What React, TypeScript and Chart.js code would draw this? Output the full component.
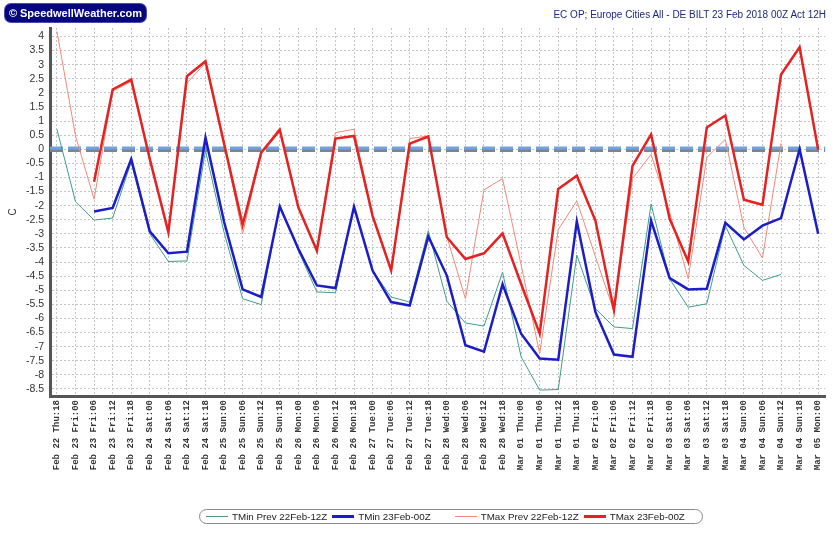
import { useEffect, useRef } from 'react';
import { Chart, registerables } from 'chart.js';

Chart.register(...registerables);

const labels: string[] = [
  'Feb 22 Thu:18',
  'Feb 23 Fri:00', 'Feb 23 Fri:06', 'Feb 23 Fri:12', 'Feb 23 Fri:18',
  'Feb 24 Sat:00', 'Feb 24 Sat:06', 'Feb 24 Sat:12', 'Feb 24 Sat:18',
  'Feb 25 Sun:00', 'Feb 25 Sun:06', 'Feb 25 Sun:12', 'Feb 25 Sun:18',
  'Feb 26 Mon:00', 'Feb 26 Mon:06', 'Feb 26 Mon:12', 'Feb 26 Mon:18',
  'Feb 27 Tue:00', 'Feb 27 Tue:06', 'Feb 27 Tue:12', 'Feb 27 Tue:18',
  'Feb 28 Wed:00', 'Feb 28 Wed:06', 'Feb 28 Wed:12', 'Feb 28 Wed:18',
  'Mar 01 Thu:00', 'Mar 01 Thu:06', 'Mar 01 Thu:12', 'Mar 01 Thu:18',
  'Mar 02 Fri:00', 'Mar 02 Fri:06', 'Mar 02 Fri:12', 'Mar 02 Fri:18',
  'Mar 03 Sat:00', 'Mar 03 Sat:06', 'Mar 03 Sat:12', 'Mar 03 Sat:18',
  'Mar 04 Sun:00', 'Mar 04 Sun:06', 'Mar 04 Sun:12', 'Mar 04 Sun:18',
  'Mar 05 Mon:00',
];

const tMinPrev: (number | null)[] = [
  0.71, -1.86, -2.51, -2.44, -0.45, -3.0, -3.98, -3.96, -0.05,
  -2.95, -5.3, -5.51, -1.95, -3.6, -5.06, -5.09, -2.04,
  -4.3, -5.24, -5.42, -2.89, -5.39, -6.16, -6.27, -4.36,
  -7.36, -8.54, -8.52, -3.75, -5.65, -6.3, -6.36, -1.94,
  -4.6, -5.6, -5.48, -2.71, -4.12, -4.65, -4.44, null, null,
];

const tMin: (number | null)[] = [
  null, null, -2.21, -2.08, -0.35, -2.91, -3.69, -3.63, 0.41,
  -2.57, -4.97, -5.24, -2.03, -3.53, -4.83, -4.92, -2.04,
  -4.3, -5.42, -5.54, -3.09, -4.48, -6.95, -7.18, -4.79,
  -6.54, -7.42, -7.46, -2.56, -5.77, -7.28, -7.36, -2.53,
  -4.57, -4.97, -4.95, -2.61, -3.2, -2.71, -2.44, 0.0, -3.0,
];

const tMaxPrev: (number | null)[] = [
  4.18, 0.47, -1.77, 2.06, 2.4, -0.3, -3.0, 2.35, 3.06,
  0.2, -3.0, -0.12, 0.77, -2.06, -3.6, 0.59, 0.71,
  -2.36, -4.3, 0.38, 0.47, -3.1, -5.3, -1.44, -1.04,
  -4.1, -7.24, -2.85, -1.83, -3.8, -5.75, -1.04, -0.18,
  -2.24, -4.59, -0.29, 0.35, -2.77, -3.86, 0.21, null, null,
];

const tMax: (number | null)[] = [
  null, null, -1.15, 2.12, 2.47, -0.35, -2.94, 2.59, 3.12,
  0.2, -2.68, -0.12, 0.68, -2.06, -3.6, 0.38, 0.47,
  -2.36, -4.3, 0.2, 0.45, -3.12, -3.89, -3.69, -2.98,
  -4.78, -6.54, -1.41, -0.94, -2.53, -5.71, -0.59, 0.53,
  -2.47, -3.98, 0.77, 1.2, -1.79, -1.97, 2.65, 3.62, -0.02,
];

const seriesNames = ['TMin Prev 22Feb-12Z', 'TMin 23Feb-00Z', 'TMax Prev 22Feb-12Z', 'TMax 23Feb-00Z'];
const seriesColors = ['#3f9c8c', '#1c1cc8', '#f08a7a', '#e52222'];
const seriesWidths = [1, 2.5, 1, 2.5];

const titleText = 'EC OP; Europe Cities All - DE BILT 23 Feb 2018 00Z Act 12H';
const logoText = '© SpeedwellWeather.com';

const toPoints = (arr: (number | null)[]) => arr.map((v, i) => ({ x: i, y: v }));

const zeroLine = {
  id: 'zeroLine',
  beforeDatasetsDraw(chart: any) {
    const { ctx, chartArea, scales } = chart;
    const y = scales.y.getPixelForValue(0);
    ctx.save();
    ctx.setLineDash([13, 5]);
    ctx.lineWidth = 3;
    ctx.strokeStyle = '#7a8591';
    ctx.beginPath();
    ctx.moveTo(chartArea.left, y + 1.3);
    ctx.lineTo(chartArea.right, y + 1.3);
    ctx.stroke();
    ctx.strokeStyle = '#70a3e0';
    ctx.beginPath();
    ctx.moveTo(chartArea.left, y - 1.2);
    ctx.lineTo(chartArea.right, y - 1.2);
    ctx.stroke();
    ctx.restore();
  },
};

export default function App() {
  const ref = useRef<HTMLCanvasElement>(null);

  useEffect(() => {
    document.body.style.margin = '0';
    if (!ref.current) return;
    const series = [tMinPrev, tMin, tMaxPrev, tMax];
    const drawOrder = [3, 1, 2, 0];
    const chart = new Chart(ref.current, {
      type: 'line',
      data: {
        datasets: drawOrder.map((k) => ({
          label: seriesNames[k],
          data: toPoints(series[k]) as any,
          borderColor: seriesColors[k],
          backgroundColor: seriesColors[k],
          borderWidth: seriesWidths[k],
          pointRadius: 0,
          tension: 0,
          fill: false,
          spanGaps: false,
        })),
      },
      options: {
        animation: false,
        responsive: false,
        devicePixelRatio: 1,
        layout: { padding: { left: 7, right: 3, top: 28, bottom: 0 } },
        plugins: {
          legend: { display: false },
          tooltip: { enabled: false },
          title: { display: false },
        },
        scales: {
          x: {
            type: 'linear',
            min: -0.375,
            max: 41.375,
            afterFit: (s: any) => {
              s.height = 138;
            },
            ticks: {
              stepSize: 1,
              includeBounds: false,
              autoSkip: false,
              maxRotation: 90,
              minRotation: 90,
              padding: 4,
              color: '#333',
              font: { family: 'Liberation Mono', size: 9, weight: 'bold' },
              callback: (v: any) => labels[v as number] ?? '',
            },
            grid: { color: '#c4c4c4', drawTicks: false, lineWidth: 1 },
            border: { color: '#555', width: 3, dash: [2, 2] },
          },
          y: {
            min: -8.75,
            max: 4.3,
            afterFit: (s: any) => {
              s.width = 43;
            },
            ticks: {
              stepSize: 0.5,
              includeBounds: false,
              autoSkip: false,
              padding: 6,
              color: '#333',
              font: { family: 'Liberation Sans', size: 10.5 },
              callback: (v: any) => String(v),
            },
            title: {
              display: true,
              text: 'C',
              color: '#333',
              padding: 0,
              font: { family: 'Liberation Sans', size: 10 },
            },
            grid: { color: '#c4c4c4', drawTicks: false, lineWidth: 1 },
            border: { color: '#555', width: 3, dash: [2, 2] },
          },
        },
      },
      plugins: [zeroLine],
    });
    return () => chart.destroy();
  }, []);

  const legendItems = [0, 1, 2, 3];

  return (
    <div style={{ position: 'relative', width: 833, height: 534, background: '#fff', fontFamily: 'Liberation Sans, sans-serif' }}>
      <canvas ref={ref} width={833} height={534} style={{ position: 'absolute', left: 0, top: 0 }} />
      <div
        style={{
          position: 'absolute', left: 5, top: 4, width: 141, height: 18, background: '#06067e',
          borderRadius: 6, color: '#fff', fontWeight: 'bold', fontSize: 11, lineHeight: '18px',
          textAlign: 'center', whiteSpace: 'nowrap', boxShadow: '0 0 0 1px #4a4ab0',
        }}
      >
        {logoText}
      </div>
      <div
        style={{
          position: 'absolute', right: 7, top: 8, color: '#1e2a78', fontSize: 10,
          whiteSpace: 'nowrap', lineHeight: '14px',
        }}
      >
        {titleText}
      </div>
      <div
        style={{
          position: 'absolute', left: 199, top: 509, width: 504, height: 15, boxSizing: 'border-box',
          border: '1px solid #8a8a8a', borderRadius: 8, display: 'flex', alignItems: 'center',
          justifyContent: 'flex-start', paddingLeft: 6, fontSize: 9.8, color: '#222', whiteSpace: 'nowrap',
        }}
      >
        {legendItems.map((k) => (
          <div key={k} style={{ display: 'flex', alignItems: 'center', marginRight: k === 1 ? 24 : k === 3 ? 0 : 5 }}>
            <span
              style={{
                display: 'inline-block', width: 22, height: seriesWidths[k] > 1 ? 3 : 1,
                background: seriesColors[k], marginRight: 4,
              }}
            />
            <span>{seriesNames[k]}</span>
          </div>
        ))}
      </div>
    </div>
  );
}
